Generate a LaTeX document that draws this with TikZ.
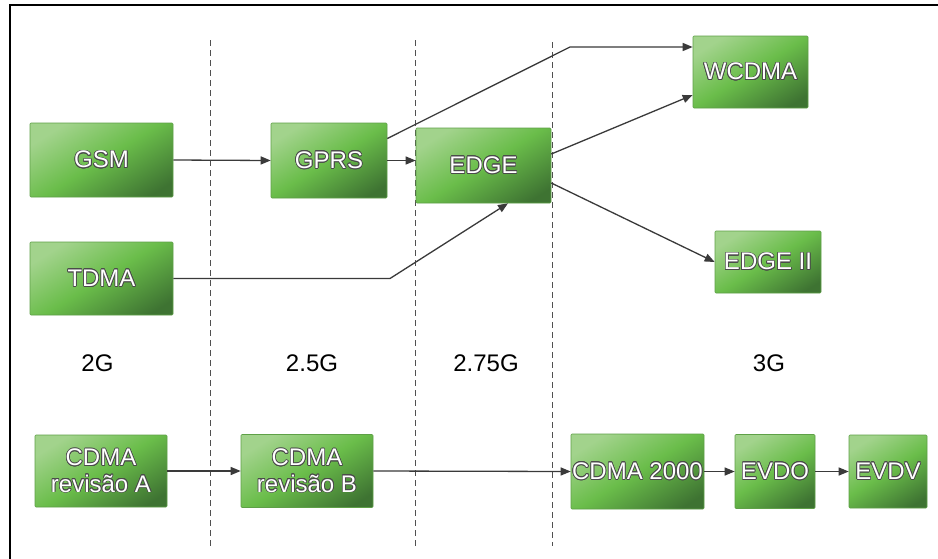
\documentclass[tikz,border=0pt]{standalone}
\usepackage{fontspec}
\setmainfont{Liberation Sans}
\usepackage[copies]{contour}
\usetikzlibrary{arrows.meta}
\contourlength{0.7pt}
\contournumber{16}

\definecolor{gLight}{HTML}{A2D38C}
\definecolor{gMid}{HTML}{6ABD4A}
\definecolor{gDark}{HTML}{3E7332}
\definecolor{gEdge}{HTML}{5EA047}
\definecolor{arrowgray}{HTML}{3A3A3A}
\definecolor{dashgray}{HTML}{505050}
\definecolor{outlinegray}{HTML}{4A4A4A}

\pgfdeclarehorizontalshading{boxgreen}{100bp}{%
  color(0bp)=(gLight); color(25bp)=(gLight); color(50bp)=(gMid);
  color(78bp)=(gDark); color(100bp)=(gDark)}

\newcommand{\wtext}[1]{\contour{outlinegray}{\textcolor{white}{#1}}}

\tikzset{
  gbox/.style={draw=gEdge, line width=0.6pt, shading=boxgreen, shading angle=-58,
    rounded corners=1pt, inner sep=0pt, align=center,
    font=\fontsize{24}{27.5}\selectfont},
  flow/.style={draw=arrowgray, line width=1.3pt,
    -{Triangle[length=10pt,width=8pt]}},
  era/.style={draw=dashgray, line width=1pt, dash pattern=on 6pt off 4pt},
  gen/.style={font=\fontsize{24}{28}\selectfont, text=black},
}

\begin{document}
\begin{tikzpicture}[x=1pt, y=-1pt]
\useasboundingbox (0,0) rectangle (938,558);
\fill[white] (0,0) rectangle (938,558);
\begin{scope}
\clip (0,0) rectangle (938,558);
\draw[black, line width=2.8pt] (10,5) rectangle (960,580);
\end{scope}

% generation boundaries
\draw[era] (210,40) -- (210,546);
\draw[era] (415,40) -- (415,546);
\draw[era] (552,42) -- (552,546);

% generation labels
\node[gen] (g2)   at (97.5,363) {2G};
\node[gen] (g25)  at (312,363)  {2.5G};
\node[gen] (g275) at (486,363)  {2.75G};
\node[gen] (g3)   at (769,363)  {3G};

% technologies
\node[gbox, minimum width=143pt, minimum height=74pt] (gsm)   at (101.5,160)   {\wtext{GSM}};
\node[gbox, minimum width=116pt, minimum height=75pt] (gprs)  at (329,160.5)   {\wtext{GPRS}};
\node[gbox, minimum width=135pt, minimum height=75pt] (edge)  at (483.5,165.5) {\wtext{EDGE}};
\node[gbox, minimum width=115pt, minimum height=72pt] (wcdma) at (750.5,72)    {\wtext{WCDMA}};
\node[gbox, minimum width=106pt, minimum height=62pt] (edge2) at (768,262)     {\wtext{EDGE II}};
\node[gbox, minimum width=143pt, minimum height=73pt] (tdma)  at (101.5,278.5) {\wtext{TDMA}};
\node[gbox, minimum width=132pt, minimum height=72pt] (cdmaA) at (101,471)     {\wtext{CDMA}\\[-1pt]\wtext{revisão A}};
\node[gbox, minimum width=132pt, minimum height=73pt] (cdmaB) at (307,471)     {\wtext{CDMA}\\[-1pt]\wtext{revisão B}};
\node[gbox, minimum width=133pt, minimum height=75pt] (cdma2k) at (637.5,471.5) {\wtext{CDMA 2000}};
\node[gbox, minimum width=80pt,  minimum height=74pt] (evdo)  at (775,471.5)   {\wtext{EVDO}};
\node[gbox, minimum width=78pt,  minimum height=73pt] (evdv)  at (888,471.5)   {\wtext{EVDV}};

% bend points
\coordinate (wbend) at (570,47);
\coordinate (tbend) at (390,278.5);

% evolution paths
\draw[flow] (gsm.east) -- (gprs.west);
\draw[flow] (gprs.east) -- (edge.west |- gprs.east);
\draw[flow] ([yshift=22pt]gprs.east) -- (wbend) -- (wcdma.west |- wbend);
\draw[flow] ([yshift=11.5pt]edge.east) -- ([yshift=-23pt]wcdma.west);
\draw[flow] ([yshift=-17.5pt]edge.east) -- (edge2.west);
\draw[flow] (tdma.east) -- (tbend) -- ([xshift=24.5pt]edge.south);
\draw[flow] (cdmaA.east) -- (cdmaB.west);
\draw[flow] (cdmaB.east) -- (cdma2k.west);
\draw[flow] (cdma2k.east) -- (evdo.west);
\draw[flow] (evdo.east) -- (evdv.west);
\end{tikzpicture}
\end{document}
